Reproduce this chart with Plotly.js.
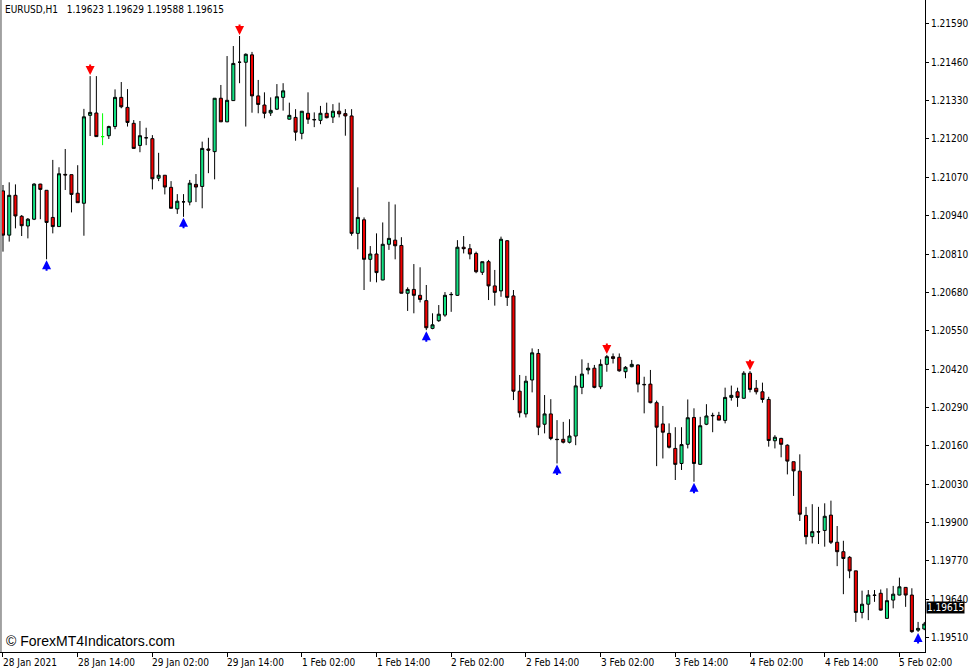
<!DOCTYPE html>
<html>
<head>
<meta charset="utf-8">
<script src="https://cdn.plot.ly/plotly-3.0.1.min.js"></script>
<style>
  html, body { margin: 0; padding: 0; background: #ffffff; }
  #chart { width: 977px; height: 672px; }
</style>
</head>
<body>
<div id="chart"></div>
<script>
// ---- data (EURUSD, H1) ----
const symbolLabel = "EURUSD,H1";
const lastOHLC = [1.19623, 1.19629, 1.19588, 1.19615];

const openP = [
1.21024, 1.20874, 1.21009, 1.20938, 1.20905, 1.20928, 1.21047, 1.21026, 1.20934, 1.20903,
1.21080, 1.21079, 1.21016, 1.20982, 1.21280, 1.21288, 1.21208, 1.21211, 1.21242, 1.21341,
1.21307, 1.21253, 1.21178, 1.21204, 1.21201, 1.21067, 1.21077, 1.21036, 1.20963, 1.20987,
1.20986, 1.21046, 1.21039, 1.21166, 1.21157, 1.21338, 1.21258, 1.21330, 1.21460, 1.21460,
1.21485, 1.21346, 1.21315, 1.21288, 1.21301, 1.21341, 1.21267, 1.21273, 1.21219, 1.21287,
1.21266, 1.21263, 1.21287, 1.21274, 1.21294, 1.21286, 1.21278, 1.20880, 1.20926, 1.20792,
1.20810, 1.20722, 1.20843, 1.20857, 1.20839, 1.20677, 1.20690, 1.20670, 1.20652, 1.20558,
1.20584, 1.20603, 1.20672, 1.20670, 1.20833, 1.20828, 1.20812, 1.20748, 1.20784, 1.20702,
1.20685, 1.20855, 1.20668, 1.20345, 1.20268, 1.20383, 1.20473, 1.20233, 1.20268, 1.20182,
1.20182, 1.20172, 1.20193, 1.20358, 1.20417, 1.20423, 1.20360, 1.20436, 1.20462, 1.20460,
1.20411, 1.20428, 1.20434, 1.20368, 1.20369, 1.20306, 1.20234, 1.20202, 1.20151, 1.20100,
1.20165, 1.20256, 1.20097, 1.20233, 1.20263, 1.20263, 1.20246, 1.20324, 1.20343, 1.20321,
1.20406, 1.20355, 1.20343, 1.20317, 1.20177, 1.20185, 1.20162, 1.20106, 1.20074, 1.19924,
1.19852, 1.19869, 1.19873, 1.19925, 1.19833, 1.19801, 1.19782, 1.19736, 1.19595, 1.19623,
1.19654, 1.19660, 1.19575, 1.19637, 1.19654, 1.19680, 1.19654, 1.19535, 1.19539
];
const highP = [
1.21044, 1.21053, 1.21046, 1.20942, 1.20932, 1.21050, 1.21048, 1.21026, 1.21129, 1.21104,
1.21166, 1.21079, 1.21111, 1.21302, 1.21413, 1.21413, 1.21287, 1.21245, 1.21368, 1.21393,
1.21369, 1.21264, 1.21261, 1.21238, 1.21213, 1.21153, 1.21077, 1.21057, 1.21013, 1.21013,
1.21061, 1.21081, 1.21191, 1.21204, 1.21338, 1.21383, 1.21481, 1.21515, 1.21549, 1.21490,
1.21495, 1.21400, 1.21358, 1.21341, 1.21386, 1.21389, 1.21323, 1.21301, 1.21294, 1.21358,
1.21290, 1.21312, 1.21323, 1.21318, 1.21323, 1.21301, 1.21301, 1.21036, 1.20934, 1.20837,
1.20880, 1.20917, 1.20987, 1.20978, 1.20867, 1.20697, 1.20776, 1.20765, 1.20705, 1.20609,
1.20637, 1.20681, 1.20681, 1.20857, 1.20871, 1.20844, 1.20818, 1.20784, 1.20790, 1.20756,
1.20869, 1.20857, 1.20688, 1.20400, 1.20397, 1.20490, 1.20488, 1.20332, 1.20318, 1.20247,
1.20241, 1.20250, 1.20397, 1.20453, 1.20441, 1.20434, 1.20453, 1.20468, 1.20473, 1.20473,
1.20430, 1.20451, 1.20436, 1.20394, 1.20417, 1.20313, 1.20295, 1.20236, 1.20223, 1.20223,
1.20317, 1.20287, 1.20258, 1.20301, 1.20272, 1.20275, 1.20357, 1.20364, 1.20357, 1.20413,
1.20413, 1.20383, 1.20374, 1.20326, 1.20196, 1.20187, 1.20165, 1.20106, 1.20131, 1.19953,
1.19962, 1.19953, 1.19965, 1.19974, 1.19888, 1.19838, 1.19786, 1.19736, 1.19669, 1.19671,
1.19671, 1.19673, 1.19677, 1.19685, 1.19713, 1.19681, 1.19677, 1.19563, 1.19563
];
const lowP = [
1.20818, 1.20852, 1.20897, 1.20871, 1.20863, 1.20925, 1.20928, 1.20792, 1.20880, 1.20902,
1.21027, 1.20951, 1.20984, 1.20872, 1.21210, 1.21208, 1.21179, 1.21200, 1.21233, 1.21304,
1.21242, 1.21168, 1.21155, 1.21179, 1.21029, 1.21057, 1.21012, 1.20965, 1.20946, 1.20936,
1.20975, 1.20986, 1.20965, 1.21084, 1.21063, 1.21258, 1.21257, 1.21329, 1.21389, 1.21242,
1.21289, 1.21287, 1.21270, 1.21278, 1.21298, 1.21296, 1.21266, 1.21194, 1.21199, 1.21251,
1.21240, 1.21250, 1.21270, 1.21254, 1.21273, 1.21211, 1.20872, 1.20826, 1.20688, 1.20716,
1.20714, 1.20721, 1.20824, 1.20792, 1.20677, 1.20617, 1.20609, 1.20646, 1.20552, 1.20555,
1.20580, 1.20597, 1.20614, 1.20668, 1.20812, 1.20792, 1.20745, 1.20739, 1.20654, 1.20635,
1.20665, 1.20634, 1.20315, 1.20256, 1.20256, 1.20341, 1.20196, 1.20202, 1.20179, 1.20100,
1.20168, 1.20168, 1.20162, 1.20335, 1.20402, 1.20355, 1.20352, 1.20411, 1.20439, 1.20411,
1.20389, 1.20426, 1.20341, 1.20270, 1.20304, 1.20091, 1.20117, 1.20151, 1.20044, 1.20078,
1.20151, 1.20038, 1.20096, 1.20230, 1.20206, 1.20247, 1.20236, 1.20313, 1.20292, 1.20320,
1.20341, 1.20334, 1.20306, 1.20157, 1.20151, 1.20121, 1.20063, 1.19990, 1.19905, 1.19826,
1.19829, 1.19827, 1.19818, 1.19827, 1.19752, 1.19657, 1.19711, 1.19563, 1.19575, 1.19569,
1.19631, 1.19601, 1.19574, 1.19609, 1.19653, 1.19614, 1.19526, 1.19529, 1.19535
];
const closeP = [
1.20874, 1.21009, 1.20939, 1.20906, 1.20928, 1.21047, 1.21029, 1.20917, 1.20903, 1.21082,
1.21078, 1.21012, 1.20984, 1.21275, 1.21290, 1.21208, 1.21208, 1.21242, 1.21341, 1.21309,
1.21256, 1.21168, 1.21211, 1.21204, 1.21065, 1.21077, 1.21037, 1.20965, 1.20989, 1.20987,
1.21050, 1.21037, 1.21168, 1.21162, 1.21338, 1.21258, 1.21331, 1.21456, 1.21460, 1.21487,
1.21346, 1.21317, 1.21287, 1.21297, 1.21343, 1.21363, 1.21280, 1.21223, 1.21294, 1.21267,
1.21265, 1.21287, 1.21272, 1.21294, 1.21285, 1.21278, 1.20880, 1.20934, 1.20792, 1.20810,
1.20747, 1.20843, 1.20863, 1.20838, 1.20677, 1.20690, 1.20670, 1.20656, 1.20560, 1.20570,
1.20606, 1.20670, 1.20673, 1.20833, 1.20828, 1.20810, 1.20750, 1.20784, 1.20702, 1.20680,
1.20860, 1.20663, 1.20345, 1.20272, 1.20379, 1.20475, 1.20223, 1.20268, 1.20185, 1.20181,
1.20172, 1.20193, 1.20363, 1.20403, 1.20423, 1.20358, 1.20436, 1.20462, 1.20456, 1.20414,
1.20426, 1.20436, 1.20369, 1.20367, 1.20306, 1.20223, 1.20206, 1.20155, 1.20097, 1.20164,
1.20255, 1.20100, 1.20228, 1.20261, 1.20262, 1.20247, 1.20324, 1.20331, 1.20324, 1.20406,
1.20351, 1.20343, 1.20317, 1.20178, 1.20189, 1.20165, 1.20108, 1.20075, 1.19928, 1.19852,
1.19869, 1.19868, 1.19921, 1.19833, 1.19801, 1.19778, 1.19736, 1.19595, 1.19623, 1.19654,
1.19653, 1.19603, 1.19635, 1.19657, 1.19682, 1.19654, 1.19530, 1.19541, 1.19556
];

// signal arrows (bar indices)
const sellSignals = [14, 38, 97, 120];
const buySignals = [7, 29, 68, 89, 111, 147];
// highlighted (lime) bars
const limeBars = [16];

// time axis labels (every 12 bars)
const timeTickBars = [0, 12, 24, 36, 48, 60, 72, 84, 96, 108, 120, 132, 144];
const timeTickText = ["28 Jan 2021", "28 Jan 14:00", "29 Jan 02:00", "29 Jan 14:00",
  "1 Feb 02:00", "1 Feb 14:00", "2 Feb 02:00", "2 Feb 14:00", "3 Feb 02:00",
  "3 Feb 14:00", "4 Feb 02:00", "4 Feb 14:00", "5 Feb 02:00"];

// price axis ticks
const priceTicks = [1.19510, 1.19640, 1.19770, 1.19900, 1.20030, 1.20160, 1.20290,
  1.20420, 1.20550, 1.20680, 1.20810, 1.20940, 1.21070, 1.21200, 1.21330, 1.21460, 1.21590];

// ---- build ----
const FONT = "DejaVu Sans Condensed, DejaVu Sans, sans-serif";
const n = openP.length;
const idxMain = [], idxLime = [];
for (let i = 0; i < n; i++) (limeBars.includes(i) ? idxLime : idxMain).push(i);
const pick = (arr, idx) => idx.map(i => arr[i]);

const mainTrace = {
  type: 'candlestick',
  x: idxMain, open: pick(openP, idxMain), high: pick(highP, idxMain),
  low: pick(lowP, idxMain), close: pick(closeP, idxMain),
  increasing: { line: { color: '#000000', width: 1 }, fillcolor: '#12e283' },
  decreasing: { line: { color: '#000000', width: 1 }, fillcolor: '#f20000' },
  whiskerwidth: 0, hoverinfo: 'skip', showlegend: false
};
const limeTrace = {
  type: 'candlestick',
  x: idxLime, open: pick(openP, idxLime), high: pick(highP, idxLime),
  low: pick(lowP, idxLime), close: pick(closeP, idxLime),
  increasing: { line: { color: '#00ff00', width: 1 }, fillcolor: '#00ff00' },
  decreasing: { line: { color: '#00ff00', width: 1 }, fillcolor: '#00ff00' },
  whiskerwidth: 0, hoverinfo: 'skip', showlegend: false
};

const annotations = [];
const arrowBase = { xref: 'x', yref: 'y', text: '', showarrow: true, ax: 0,
  arrowhead: 2, arrowsize: 0.9, arrowwidth: 2, standoff: 1,
  font: { size: 1 }, borderpad: 0 };
sellSignals.forEach(i => annotations.push(Object.assign({}, arrowBase, {
  x: i, y: highP[i], ay: -12, arrowcolor: '#ff0000'
})));
buySignals.forEach(i => annotations.push(Object.assign({}, arrowBase, {
  x: i, y: lowP[i], ay: 12, arrowcolor: '#0000ff'
})));
timeTickBars.forEach((b, k) => annotations.push({
  x: b, y: 0, xref: 'x', yref: 'paper', text: timeTickText[k], showarrow: false,
  xanchor: 'left', yanchor: 'top', xshift: -2, yshift: -3,
  font: { family: FONT, size: 10, color: '#000000' }
}));
annotations.push({
  x: 0, y: 1, xref: 'paper', yref: 'paper', xanchor: 'left', yanchor: 'top',
  xshift: 3, yshift: -2, showarrow: false,
  text: symbolLabel + '\u00a0\u00a0 ' + lastOHLC.map(v => v.toFixed(5)).join(' '),
  font: { family: FONT, size: 10, color: '#000000' }
});
annotations.push({
  x: 0, y: 0, xref: 'paper', yref: 'paper', xanchor: 'left', yanchor: 'middle',
  xshift: 4, yshift: 11, showarrow: false,
  text: '\u00a9 ForexMT4Indicators.com',
  font: { family: 'Liberation Sans, Arial, sans-serif', size: 14, color: '#000000' }
});
annotations.push({
  x: 1, y: lastOHLC[3], xref: 'paper', yref: 'y', xanchor: 'left', yanchor: 'middle',
  xshift: 1, yshift: -1, showarrow: false, text: lastOHLC[3].toFixed(5),
  bgcolor: '#000000', borderpad: 0,
  font: { family: FONT, size: 10, color: '#ffffff' }
});

const layout = {
  width: 977, height: 672,
  margin: { l: 0, r: 52, t: 0, b: 20, pad: 0 },
  paper_bgcolor: '#ffffff', plot_bgcolor: '#ffffff',
  showlegend: false,
  xaxis: {
    type: 'linear', range: [-0.48, 148.11], autorange: false,
    showgrid: false, zeroline: false, showline: true, linecolor: '#000000', linewidth: 1,
    ticks: 'outside', ticklen: 4, tickcolor: '#000000', tickwidth: 1,
    tickvals: timeTickBars, showticklabels: false,
    rangeslider: { visible: false }, fixedrange: true, automargin: false
  },
  yaxis: {
    side: 'right', range: [1.19461, 1.21671], autorange: false,
    showgrid: false, zeroline: false, showline: true, linecolor: '#000000', linewidth: 1,
    ticks: 'outside', ticklen: 3, tickcolor: '#000000', tickwidth: 1,
    tickvals: priceTicks, ticktext: priceTicks.map(v => v.toFixed(5)),
    tickfont: { family: FONT, size: 10, color: '#000000' },
    fixedrange: true, automargin: false
  },
  shapes: [
    { type: 'line', xref: 'paper', yref: 'paper', x0: 0.001, x1: 0.001, y0: 0, y1: 1,
      line: { color: '#a0a0a0', width: 2 } }
  ],
  annotations: annotations
};

Plotly.newPlot('chart', [mainTrace, limeTrace], layout, { displayModeBar: false, staticPlot: true });
</script>
</body>
</html>
